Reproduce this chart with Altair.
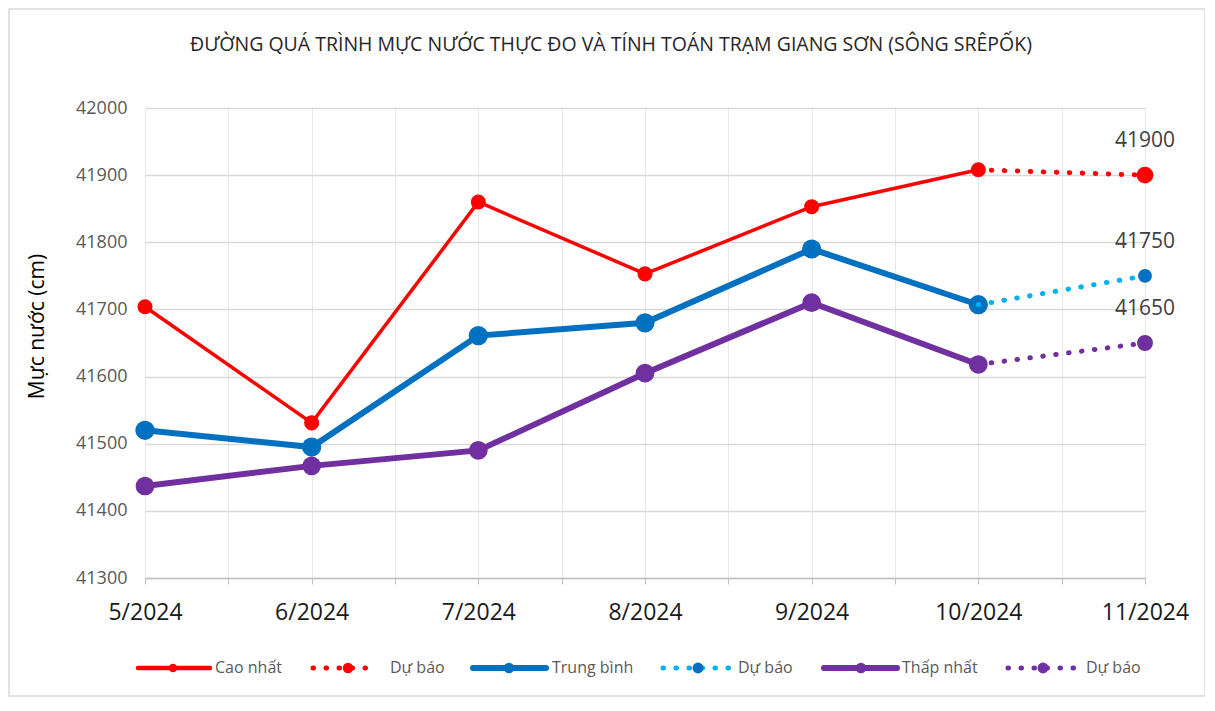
import altair as alt
import pandas as pd

FONT = "Open Sans"

title_text = "ĐƯỜNG QUÁ TRÌNH MỰC NƯỚC THỰC ĐO VÀ TÍNH TOÁN TRẠM  GIANG SƠN (SÔNG SRÊPỐK)"
y_title = "Mực nước (cm)"

months = ["5/2024", "6/2024", "7/2024", "8/2024", "9/2024", "10/2024", "11/2024"]
y_ticks = [41300, 41400, 41500, 41600, 41700, 41800, 41900, 42000]

series_names = ["Cao nhất", "Trung bình", "Thấp nhất"]
forecast_name = "Dự báo"
high = [41704, 41531, 41860, 41753, 41853, 41908]
mean = [41520, 41495, 41661, 41680, 41790, 41707]
low = [41437, 41467, 41490, 41605, 41710, 41618]
forecast = [41900, 41750, 41650]

# styles
line_colors = ["#FF0000", "#0070C0", "#7030A0"]
fc_line_colors = ["#FF0000", "#00B0F0", "#7030A0"]
fc_point_colors = ["#FF0000", "#0070C0", "#7030A0"]
line_widths = [3.5, 6, 6]
point_sizes = [227, 370, 350]
fc_point_sizes = [283, 194, 254]
legend_pt_sizes = [70, 110, 110]
fc_legend_pt_sizes = [110, 120, 120]

half_ticks = [i * 0.5 for i in range(13)]
label_expr = ("datum.value % 1 === 0 ? [" + ",".join("'%s'" % m for m in months)
              + "][datum.value] : ''")

X = alt.X("t:Q",
          scale=alt.Scale(domain=[0, len(months) - 1], nice=False, zero=False),
          axis=alt.Axis(values=half_ticks, labelExpr=label_expr, grid=True,
                        gridColor="#e8e8e8", gridWidth=1, tickColor="#bfbfbf",
                        tickSize=6, domainColor="#bfbfbf", domainWidth=1.5,
                        labelFontSize=23, labelColor="#1a1a1a", labelPadding=17,
                        labelOverlap=False, labelFlush=False, title=None))
Y = alt.Y("v:Q",
          scale=alt.Scale(domain=[y_ticks[0], y_ticks[-1]], nice=False, zero=False),
          axis=alt.Axis(values=y_ticks, format="d", grid=True, gridColor="#d9d9d9",
                        gridWidth=1.3, ticks=False, tickSize=0, domain=False,
                        labelFontSize=18, labelColor="#595959", labelPadding=18,
                        title=y_title, titleFontSize=21, titleFontWeight="normal",
                        titleColor="#000000", titleX=-108, titleY=218,
                        titleAlign="center", titleBaseline="middle"))

one = pd.DataFrame({"k": [0]})

layers = []
# border
layers.append(alt.Chart(one).mark_rect(fillOpacity=0, stroke="#d9d9d9", strokeWidth=1.5).encode(
    x=alt.value(-136), x2=alt.value(1060), y=alt.value(-99), y2=alt.value(588)))
# title
layers.append(alt.Chart(pd.DataFrame({"s": [title_text]})).mark_text(
    fontSize=19.5, color="#262626", align="center", baseline="middle").encode(
    x=alt.value(466), y=alt.value(-63), text="s:N"))

all_vals = [high, mean, low]
for i in range(3):
    vals = all_vals[i]
    df_a = pd.DataFrame({"t": list(range(len(vals))), "v": vals})
    df_f = pd.DataFrame({"t": [len(vals) - 1, len(vals)], "v": [vals[-1], forecast[i]]})
    df_e = df_f.iloc[[1]]
    layers.append(alt.Chart(df_a).mark_line(color=line_colors[i], strokeWidth=line_widths[i]).encode(x=X, y=Y))
    layers.append(alt.Chart(df_a).mark_point(filled=True, opacity=1, color=line_colors[i],
                                              size=point_sizes[i], shape="circle").encode(x=X, y=Y))
    layers.append(alt.Chart(df_f).mark_line(color=fc_line_colors[i], strokeWidth=5,
                                             strokeDash=[0.5, 12.5], strokeCap="round").encode(x=X, y=Y))
    layers.append(alt.Chart(df_e).mark_point(filled=True, opacity=1, color=fc_point_colors[i],
                                              size=fc_point_sizes[i], shape="circle").encode(x=X, y=Y))
    layers.append(alt.Chart(df_e).mark_text(dy=-34, fontSize=21, color="#404040").encode(
        x=X, y=Y, text=alt.Text("v:Q", format="d")))

# custom legend
LY = 560
leg_line = [(-7, 65, 28, 70), (328, 401, 364, 407), (679, 752, 716, 757)]
leg_fc = [(168, 233, 203, 245), (518, 586, 553, 593), (863, 933, 898, 941)]
for i in range(3):
    x1, x2, xm, xt = leg_line[i]
    layers.append(alt.Chart(one).mark_rule(color=line_colors[i], strokeWidth=line_widths[i] if i else 4.5,
                                           strokeCap="round").encode(
        x=alt.value(x1), x2=alt.value(x2), y=alt.value(LY)))
    layers.append(alt.Chart(one).mark_point(filled=True, opacity=1, color=line_colors[i],
                                            size=legend_pt_sizes[i], shape="circle").encode(
        x=alt.value(xm), y=alt.value(LY)))
    layers.append(alt.Chart(pd.DataFrame({"s": [series_names[i]]})).mark_text(
        fontSize=16, color="#595959", align="left", baseline="middle").encode(
        x=alt.value(xt), y=alt.value(LY), text="s:N"))
    x1, x2, xm, xt = leg_fc[i]
    layers.append(alt.Chart(one).mark_rule(color=fc_line_colors[i], strokeWidth=5,
                                           strokeDash=[0.5, 12.5], strokeCap="round").encode(
        x=alt.value(x1), x2=alt.value(x2), y=alt.value(LY)))
    layers.append(alt.Chart(one).mark_point(filled=True, opacity=1, color=fc_point_colors[i],
                                            size=fc_legend_pt_sizes[i], shape="circle").encode(
        x=alt.value(xm), y=alt.value(LY)))
    layers.append(alt.Chart(pd.DataFrame({"s": [forecast_name]})).mark_text(
        fontSize=16, color="#595959", align="left", baseline="middle").encode(
        x=alt.value(xt), y=alt.value(LY), text="s:N"))

chart = alt.layer(*layers).properties(
    width=1000, height=470,
    autosize=alt.AutoSizeParams(type="none"),
    padding={"left": 137, "top": 100, "right": 60, "bottom": 120},
).configure(font=FONT).configure_view(strokeWidth=0)

chart.save("out.html", embed_options={"renderer": "svg", "actions": False})
